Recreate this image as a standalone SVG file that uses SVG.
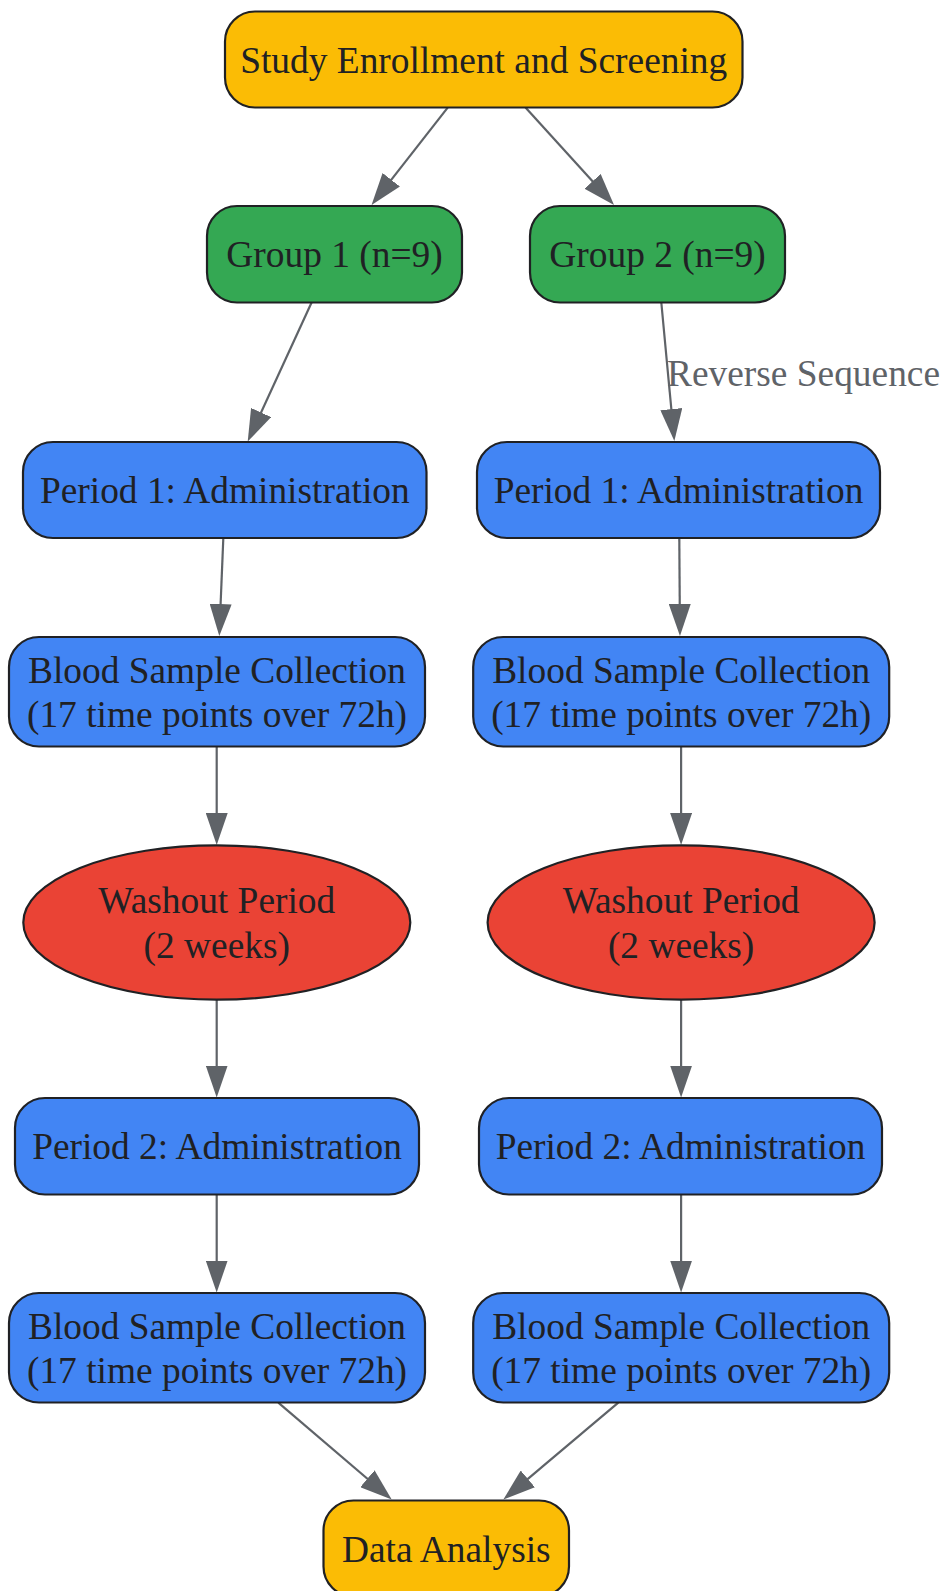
<svg xmlns="http://www.w3.org/2000/svg" width="940" height="1591" viewBox="0 0 940 1591">
<style>
.n{stroke:#202124;stroke-width:2.2}
.y{fill:#FBBC05}.g{fill:#34A853}.b{fill:#4285F4}.r{fill:#EA4335}
.t{font-family:"Liberation Serif","Times New Roman",serif;font-size:37.4px;fill:#202124;text-anchor:middle}
.e{fill:none;stroke:#5f6368;stroke-width:2.2}
.lbl{font-family:"Liberation Serif","Times New Roman",serif;font-size:37.4px;fill:#5f6368}
</style>
<defs>
<marker id="ah" markerUnits="userSpaceOnUse" markerWidth="32" markerHeight="22" refX="22" refY="11" orient="auto">
<path d="M0,0 L32,11 L0,22 z" fill="#5f6368"/>
</marker>
</defs>
<rect width="940" height="1591" fill="#ffffff"/>
<g id="connectors">
<path class="e" marker-end="url(#ah)" d="M447.7,107.6 L377.7,197.1"/>
<path class="e" marker-end="url(#ah)" d="M525.5,107.6 L607.3,197.6"/>
<path class="e" marker-end="url(#ah)" d="M311.6,302.5 L251.9,432.5"/>
<path class="e" marker-end="url(#ah)" d="M661.3,302.5 L673.4,431"/>
<text class="lbl" x="667" y="386">Reverse Sequence</text>
<path class="e" marker-end="url(#ah)" d="M223.3,538.5 L219.7,626"/>
<path class="e" marker-end="url(#ah)" d="M679.3,538.5 L679.9,626"/>
<path class="e" marker-end="url(#ah)" d="M216.7,747 L216.7,835"/>
<path class="e" marker-end="url(#ah)" d="M681.1,747 L681.1,835"/>
<path class="e" marker-end="url(#ah)" d="M216.7,1000 L216.7,1087.5"/>
<path class="e" marker-end="url(#ah)" d="M681.1,1000 L681.1,1087.5"/>
<path class="e" marker-end="url(#ah)" d="M216.7,1195 L216.7,1282.5"/>
<path class="e" marker-end="url(#ah)" d="M681.1,1195 L681.1,1282.5"/>
<path class="e" marker-end="url(#ah)" d="M278.3,1402.7 L384.1,1493"/>
<path class="e" marker-end="url(#ah)" d="M618.3,1402.7 L511,1493.1"/>
</g>
<g id="enroll"><rect class="n y" x="225" y="11.5" width="517.5" height="96" rx="30"/><text class="t" x="483.7" y="72.5">Study Enrollment and Screening</text></g>
<g id="group1"><rect class="n g" x="207" y="206" width="255" height="96.5" rx="30"/><text class="t" x="334.5" y="267.3">Group 1 (n=9)</text></g>
<g id="group2"><rect class="n g" x="530" y="206" width="255" height="96.5" rx="30"/><text class="t" x="657.5" y="267.3">Group 2 (n=9)</text></g>
<g id="g1p1"><rect class="n b" x="23" y="442" width="403.5" height="96" rx="30"/><text class="t" x="224.8" y="503">Period 1: Administration</text></g>
<g id="g2p1"><rect class="n b" x="477" y="442" width="403" height="96" rx="30"/><text class="t" x="678.5" y="503">Period 1: Administration</text></g>
<g id="g1b1"><rect class="n b" x="9" y="637" width="416" height="109.5" rx="30"/><text class="t" x="217" y="682.6">Blood Sample Collection</text><text class="t" x="217" y="727">(17 time points over 72h)</text></g>
<g id="g2b1"><rect class="n b" x="473.2" y="637" width="416" height="109.5" rx="30"/><text class="t" x="681.2" y="682.6">Blood Sample Collection</text><text class="t" x="681.2" y="727">(17 time points over 72h)</text></g>
<g id="g1w"><ellipse class="n r" cx="216.8" cy="922.5" rx="193.5" ry="77.2"/><text class="t" x="216.8" y="913.3">Washout Period</text><text class="t" x="216.8" y="957.7">(2 weeks)</text></g>
<g id="g2w"><ellipse class="n r" cx="681.1" cy="922.5" rx="193.5" ry="77.2"/><text class="t" x="681.1" y="913.3">Washout Period</text><text class="t" x="681.1" y="957.7">(2 weeks)</text></g>
<g id="g1p2"><rect class="n b" x="15" y="1098" width="404" height="96.5" rx="30"/><text class="t" x="217" y="1159.3">Period 2: Administration</text></g>
<g id="g2p2"><rect class="n b" x="479" y="1098" width="403" height="96.5" rx="30"/><text class="t" x="680.5" y="1159.3">Period 2: Administration</text></g>
<g id="g1b2"><rect class="n b" x="9" y="1293" width="416" height="109.5" rx="30"/><text class="t" x="217" y="1338.6">Blood Sample Collection</text><text class="t" x="217" y="1383">(17 time points over 72h)</text></g>
<g id="g2b2"><rect class="n b" x="473.2" y="1293" width="416" height="109.5" rx="30"/><text class="t" x="681.2" y="1338.6">Blood Sample Collection</text><text class="t" x="681.2" y="1383">(17 time points over 72h)</text></g>
<g id="analysis"><rect class="n y" x="323.5" y="1500.5" width="245.5" height="96" rx="30"/><text class="t" x="446.3" y="1561.5">Data Analysis</text></g>
</svg>
